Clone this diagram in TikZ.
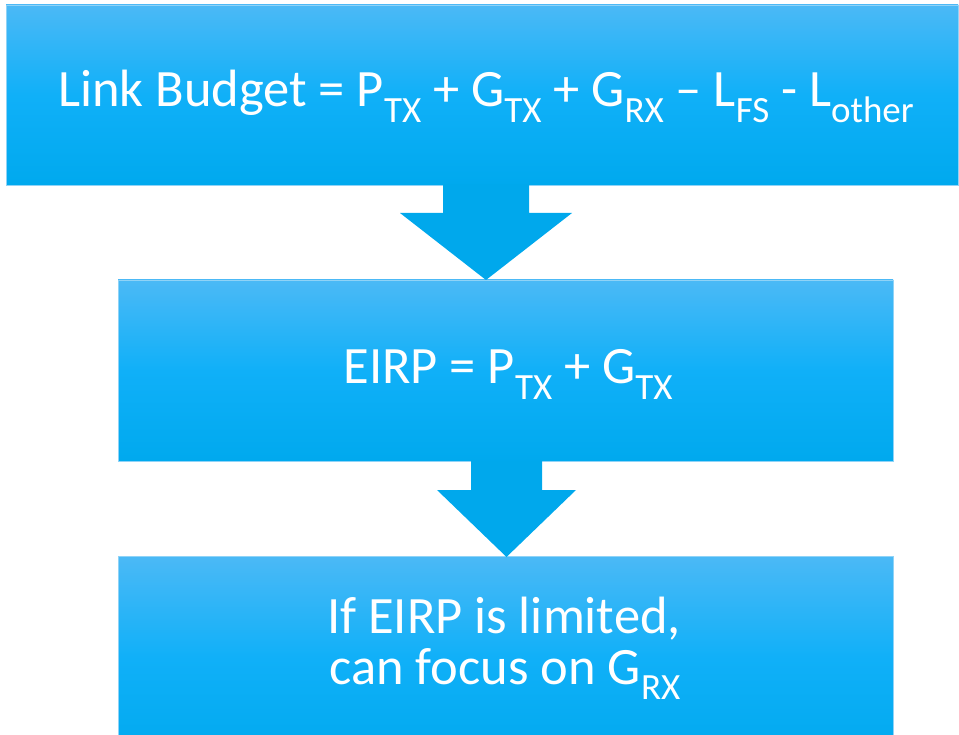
\documentclass[tikz,border=0pt]{standalone}
\usepackage{fontspec}
\setmainfont{Carlito}
\definecolor{topc}{HTML}{4BB9F6}
\definecolor{midc}{HTML}{10B0F8}
\definecolor{botc}{HTML}{00A9EE}
\definecolor{edgec}{HTML}{8FD3F7}
\definecolor{arrc}{HTML}{00A8EC}
\tikzset{
  blk/.style={shade, top color=topc, bottom color=botc, middle color=midc,
    draw=edgec, line width=0.8pt, inner sep=0pt},
  lbl/.style={text=white, font=\fontsize{52.5}{60}\selectfont, anchor=base, inner sep=0pt},
  barrow/.style={fill=arrc, draw=none}
}
\newcommand\lsub[1]{\raisebox{-0.3em}{\fontsize{37}{37}\selectfont #1}}
\begin{document}
\begin{tikzpicture}[x=1pt,y=-1pt]
\useasboundingbox (0,0) rectangle (959,735);
\node[blk, minimum width=952pt, minimum height=180pt] (b1) at (482,95) {};
\node[blk, minimum width=775pt, minimum height=181pt] (b2) at (505.5,370.5) {};
\node[blk, minimum width=775pt, minimum height=204pt] (b3) at (505.5,658) {};
% block arrows
\coordinate (a1) at (486,280);
\coordinate (a2) at (506.5,557);
\fill[barrow] (443,184.5) -- (529,184.5) -- (529,213) -- (572,213) -- (a1) -- (400,213) -- (443,213) -- cycle;
\fill[barrow] (471,460.5) -- (542,460.5) -- (542,490) -- (576,490) -- (a2) -- (437,490) -- (471,490) -- cycle;
% texts
\node[lbl] (t1) at (486,107) {Link Budget = P\lsub{TX} + G\lsub{TX} + G\lsub{RX} – L\lsub{FS} - L\lsub{other}};
\node[lbl] (t2) at (508,384) {EIRP = P\lsub{TX} + G\lsub{TX}};
\node[lbl] (t3) at (504,633) {If EIRP is limited,};
\node[lbl] (t4) at (505,684) {can focus on G\lsub{RX}};
\end{tikzpicture}
\end{document}
